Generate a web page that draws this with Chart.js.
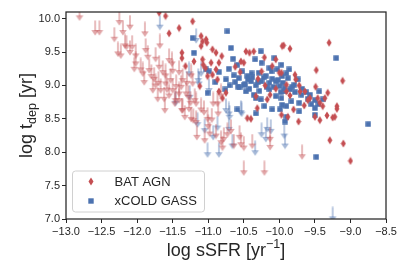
<!DOCTYPE html>
<html>
<head>
<meta charset="utf-8">
<script src="https://cdn.jsdelivr.net/npm/chart.js@4.4.0/dist/chart.umd.min.js"></script>
<style>
html, body { margin: 0; padding: 0; background: #fff; }
#wrap { width: 409px; height: 273px; }
</style>
</head>
<body>
<div id="wrap"><canvas id="chart" width="409" height="273"></canvas></div>
<script>
// tick values
const xTicks = [-13.0, -12.5, -12.0, -11.5, -11.0, -10.5, -10.0, -9.5, -9.0, -8.5];
const yTicks = [7.0, 7.5, 8.0, 8.5, 9.0, 9.5, 10.0];
const legendNames = ['BAT AGN', 'xCOLD GASS'];

// BAT AGN detections
const batX = [-11.69, -11.60, -11.55, -11.41, -11.22, -11.10, -11.08, -11.03, -11.02, -11.10,
  -11.37, -11.37, -11.20, -11.08, -11.07, -11.04, -10.94, -10.89, -10.85, -10.81,
  -10.96, -10.89, -11.32, -11.12, -11.01, -10.94, -10.87, -10.85, -10.47, -10.42,
  -10.36, -10.54, -10.50, -9.96, -10.33, -10.31, -10.17, -10.05, -10.00, -10.10,
  -10.75, -10.80, -9.94, -9.85, -9.30, -9.48, -9.11, -9.49, -9.32, -9.36,
  -9.19, -9.19, -9.78, -9.77, -9.71, -9.64, -9.57, -9.46, -9.43, -9.39,
  -9.90, -9.80, -9.97, -9.73, -9.50, -9.43, -9.33, -9.25, -9.22, -9.29,
  -9.10, -9.00, -9.88, -9.97, -10.45, -10.40, -10.25, -10.13, -9.90, -9.72,
  -10.21, -10.62, -10.55, -10.30, -10.20, -10.05, -9.85, -9.65, -9.60];
const batY = [10.09, 10.04, 9.78, 9.86, 9.96, 9.74, 9.66, 9.69, 9.64, 9.59,
  9.49, 9.41, 9.36, 9.39, 9.31, 9.26, 9.54, 9.49, 9.34, 9.44,
  9.34, 9.24, 9.29, 8.99, 9.14, 9.16, 9.09, 8.91, 9.51, 9.49,
  9.51, 9.36, 9.34, 9.59, 8.84, 8.66, 8.79, 9.39, 9.19, 9.29,
  8.89, 8.81, 9.60, 9.55, 9.64, 9.23, 9.07, 8.98, 8.89, 8.81,
  8.69, 8.65, 9.16, 9.09, 8.91, 8.91, 8.81, 8.81, 8.74, 8.69,
  8.91, 8.64, 9.19, 8.46, 8.53, 8.48, 8.55, 8.52, 8.53, 8.18,
  8.13, 7.87, 8.53, 8.56, 8.51, 8.50, 9.21, 8.86, 9.01, 9.00,
  9.42, 9.28, 9.20, 9.10, 9.00, 8.95, 8.85, 8.70, 8.78];

// xCOLD GASS detections
const xcgX = [-10.73, -11.22, -11.20, -10.68, -10.65, -10.71, -10.59, -10.52, -10.45, -10.57,
  -10.40, -10.50, -10.26, -10.25, -10.14, -10.07, -10.34, -10.29, -10.19, -10.14,
  -10.05, -10.00, -9.96, -9.93, -10.14, -10.05, -10.26, -10.33, -11.03, -10.99,
  -10.75, -10.76, -11.01, -10.59, -10.21, -10.10, -9.96, -10.36, -9.97, -9.20,
  -9.88, -9.74, -9.95, -9.85, -9.92, -9.97, -9.83, -9.69, -9.62, -9.50,
  -9.44, -9.39, -9.50, -9.90, -9.99, -9.92, -9.90, -9.72, -9.50, -8.75,
  -9.48, -10.33, -10.44, -10.39, -10.33, -10.25, -10.56, -10.47, -10.64, -10.11,
  -10.03, -9.86, -9.79, -9.72, -9.57, -10.62, -10.58, -10.48, -10.42, -10.38,
  -10.30, -10.28, -10.22, -10.18, -10.10, -10.08, -10.02, -9.98, -9.90, -9.82,
  -9.78, -9.68, -9.60, -9.55, -9.45, -10.70, -10.85, -10.90];
const xcgY = [9.81, 9.71, 9.49, 9.56, 9.40, 9.25, 9.31, 9.21, 9.14, 9.11,
  9.06, 9.01, 9.51, 9.34, 9.26, 9.41, 9.39, 9.19, 9.14, 9.04,
  9.06, 8.99, 9.14, 8.96, 8.94, 8.84, 8.79, 8.81, 9.24, 9.21,
  9.09, 8.94, 8.89, 8.64, 8.69, 8.64, 8.71, 8.86, 9.31, 9.41,
  9.11, 9.09, 9.04, 8.94, 8.91, 8.81, 8.76, 8.86, 8.90, 8.78,
  8.91, 8.79, 8.66, 8.69, 8.64, 8.46, 8.53, 8.61, 8.56, 8.42,
  7.93, 8.58, 9.09, 9.18, 9.00, 9.06, 8.97, 8.91, 9.15, 9.21,
  9.24, 9.24, 9.01, 8.74, 8.86, 9.05, 8.98, 9.02, 8.95, 9.12,
  9.05, 8.92, 9.12, 8.98, 9.10, 8.98, 9.08, 8.90, 9.18, 8.98,
  8.90, 8.95, 8.80, 8.72, 8.72, 9.00, 9.20, 9.05];

// BAT AGN upper limits
const batLimX = [-12.81, -12.59, -12.53, -12.32, -12.25, -12.20, -12.10, -11.89, -12.17, -12.15,
  -12.27, -12.23, -12.10, -12.07, -12.02, -12.02, -12.04, -11.88, -11.85, -11.74,
  -11.68, -11.92, -11.90, -11.83, -11.76, -11.74, -11.69, -11.64, -11.60, -11.67,
  -11.62, -11.71, -11.61, -11.55, -11.51, -11.53, -11.50, -11.55, -11.46, -11.41,
  -11.60, -11.78, -11.41, -11.36, -11.38, -11.24, -11.22, -11.31, -11.41, -11.36,
  -11.27, -11.17, -11.06, -10.87, -10.82, -11.47, -11.37, -11.33, -11.21, -11.16,
  -11.05, -11.28, -11.19, -11.24, -11.17, -11.01, -10.82, -10.78, -10.73, -10.68,
  -10.64, -10.54, -10.50, -10.38, -10.50, -10.21, -10.89, -10.80, -10.13, -9.68,
  -10.93, -10.86, -10.98, -10.56, -10.13, -11.95, -11.80, -11.70, -11.58, -11.50,
  -11.45, -11.30, -11.25, -11.10, -11.00, -10.95];
const batLimY = [10.08, 9.86, 9.86, 9.76, 10.01, 9.86, 9.94, 9.84, 9.66, 9.64,
  9.54, 9.51, 9.56, 9.64, 9.51, 9.39, 9.31, 9.59, 9.49, 9.46,
  9.66, 9.24, 9.11, 9.29, 9.16, 9.06, 9.34, 9.26, 9.21, 8.99,
  8.86, 8.86, 8.69, 9.44, 9.39, 9.14, 8.99, 8.91, 8.84, 8.94,
  9.09, 8.99, 9.26, 9.14, 9.04, 9.21, 9.09, 8.94, 8.84, 8.69,
  8.71, 8.79, 8.66, 8.79, 8.91, 8.79, 8.69, 8.59, 8.54, 8.29,
  8.24, 8.89, 8.84, 8.56, 8.51, 8.56, 8.21, 8.26, 8.33, 8.38,
  8.16, 8.18, 8.13, 8.16, 7.76, 7.76, 8.31, 8.13, 8.14, 8.00,
  8.79, 8.64, 8.34, 8.29, 8.26, 9.30, 9.20, 9.10, 9.00, 9.28,
  9.05, 9.10, 8.80, 8.70, 8.45, 8.55];

// xCOLD GASS upper limits
const xcgLimX = [-11.68, -11.46, -11.17, -11.10, -10.99, -10.75, -10.54, -10.71, -11.14, -11.15,
  -11.01, -10.85, -10.87, -10.71, -10.66, -10.34, -10.25, -10.19, -10.12, -10.17,
  -9.93, -9.92, -9.25, -11.26, -11.05, -10.70, -10.53, -10.93, -11.27, -11.13];
const xcgLimY = [9.94, 8.80, 9.74, 9.24, 8.99, 8.69, 8.66, 8.64, 9.14, 8.48,
  8.03, 8.03, 8.43, 8.41, 8.16, 8.06, 8.33, 8.26, 8.38, 8.41,
  8.31, 8.16, 7.07, 8.89, 8.39, 8.59, 8.64, 8.29, 9.24, 9.09];

const RED = '#c44e52';
const BLUE = '#4c72b0';
const INK = '#262626';
const FONT = '"Liberation Sans", Arial, sans-serif';

function pts(xs, ys) {
  return xs.map((x, i) => ({ x: x, y: ys[i] }));
}

function makeCanvas(w, h) {
  const c = document.createElement('canvas');
  c.width = w; c.height = h;
  return c;
}

function thinDiamond(color) {
  const c = makeCanvas(6, 9);
  const g = c.getContext('2d');
  g.fillStyle = color;
  g.beginPath();
  g.moveTo(3, 0.5); g.lineTo(5.5, 4.5); g.lineTo(3, 8.5); g.lineTo(0.5, 4.5);
  g.closePath();
  g.fill();
  return c;
}

function square(color) {
  const c = makeCanvas(6, 6);
  const g = c.getContext('2d');
  g.fillStyle = color;
  g.fillRect(0.3, 0.3, 5.4, 5.4);
  return c;
}

function arrow(color) {
  const c = makeCanvas(10, 16);
  const g = c.getContext('2d');
  g.strokeStyle = color;
  g.fillStyle = color;
  g.lineWidth = 1.5;
  g.beginPath();
  g.moveTo(5, 0.5); g.lineTo(5, 11);
  g.stroke();
  g.beginPath();
  g.moveTo(1.2, 10); g.lineTo(8.8, 10); g.lineTo(5, 15.5);
  g.closePath();
  g.fill();
  return c;
}

const redMark = thinDiamond(RED);
const blueMark = square(BLUE);
const redArrow = arrow('rgba(196,78,82,0.5)');
const blueArrow = arrow('rgba(76,114,176,0.5)');
const legendMarks = [redMark, blueMark];

function fmt(v) {
  return (v < 0 ? '\u2212' : '') + Math.abs(v).toFixed(1);
}

// draws all four spines on top of the points
const frame = {
  id: 'frame',
  afterDatasetsDraw(chart) {
    const a = chart.chartArea, ctx = chart.ctx;
    ctx.save();
    ctx.strokeStyle = INK;
    ctx.lineWidth = 1.25;
    ctx.strokeRect(a.left, a.top, a.right - a.left, a.bottom - a.top);
    ctx.restore();
  }
};

const axisTitles = {
  id: 'axisTitles',
  afterDraw(chart) {
    const a = chart.chartArea, ctx = chart.ctx;
    const big = '18px ' + FONT, small = '12.5px ' + FONT;
    ctx.save();
    ctx.fillStyle = INK;
    ctx.textBaseline = 'alphabetic';
    ctx.textAlign = 'left';
    // x title
    ctx.font = big;
    const a1 = 'log sSFR [yr', a3 = ']';
    const w1 = ctx.measureText(a1).width, w3 = ctx.measureText(a3).width;
    ctx.font = small;
    const w2 = ctx.measureText('\u22121').width;
    let x = (a.left + a.right) / 2 - (w1 + w2 + w3) / 2;
    const yb = 256;
    ctx.font = big; ctx.fillText(a1, x, yb); x += w1;
    ctx.font = small; ctx.fillText('\u22121', x, yb - 8); x += w2;
    ctx.font = big; ctx.fillText(a3, x, yb);
    // y title
    ctx.translate(32, (a.top + a.bottom) / 2);
    ctx.rotate(-Math.PI / 2);
    ctx.font = big;
    const b1 = 'log t', b3 = ' [yr]';
    const v1 = ctx.measureText(b1).width, v3 = ctx.measureText(b3).width;
    ctx.font = small;
    const v2 = ctx.measureText('dep').width;
    let p = -(v1 + v2 + v3) / 2;
    ctx.font = big; ctx.fillText(b1, p, 0); p += v1;
    ctx.font = small; ctx.fillText('dep', p, 4); p += v2;
    ctx.font = big; ctx.fillText(b3, p, 0);
    ctx.restore();
  }
};

const legendBox = {
  id: 'legendBox',
  afterDraw(chart) {
    const a = chart.chartArea, ctx = chart.ctx;
    const x0 = a.left + 6.5, y0 = a.bottom - 48;
    ctx.save();
    ctx.beginPath();
    ctx.roundRect(x0, y0, 132, 41, 3);
    ctx.fillStyle = 'rgba(255,255,255,0.8)';
    ctx.fill();
    ctx.strokeStyle = '#d0d0d0';
    ctx.lineWidth = 1;
    ctx.stroke();
    ctx.fillStyle = INK;
    ctx.font = '13px ' + FONT;
    ctx.textBaseline = 'middle';
    legendNames.forEach((name, i) => {
      const cy = y0 + 10.5 + i * 19;
      const m = legendMarks[i];
      ctx.drawImage(m, Math.round(x0 + 18.5 - m.width / 2), Math.round(cy - m.height / 2));
      ctx.fillText(name, x0 + 42, cy + 0.5);
    });
    ctx.restore();
  }
};

new Chart(document.getElementById('chart'), {
  type: 'scatter',
  data: {
    datasets: [
      { label: 'BAT AGN', data: pts(batX, batY), pointStyle: redMark },
      { label: 'xCOLD GASS', data: pts(xcgX, xcgY), pointStyle: blueMark },
      { label: 'BAT AGN limits', data: pts(batLimX, batLimY), pointStyle: redArrow },
      { label: 'xCOLD GASS limits', data: pts(xcgLimX, xcgLimY), pointStyle: blueArrow }
    ]
  },
  options: {
    responsive: false,
    devicePixelRatio: 1,
    animation: false,
    layout: { padding: { top: 12, right: 23, left: 0, bottom: 0 } },
    plugins: { legend: { display: false }, tooltip: { enabled: false } },
    scales: {
      x: {
        type: 'linear',
        min: -13, max: -8.5,
        afterBuildTicks: s => { s.ticks = xTicks.map(v => ({ value: v })); },
        afterFit: s => { s.height = 54; },
        ticks: { callback: fmt, color: INK, font: { family: FONT, size: 11 }, padding: 2, maxRotation: 0, autoSkip: false },
        grid: { drawOnChartArea: false, drawTicks: true, tickLength: 4, tickColor: INK, tickWidth: 1 },
        border: { display: false }
      },
      y: {
        type: 'linear',
        min: 7.0, max: 10.1,
        afterBuildTicks: s => { s.ticks = yTicks.map(v => ({ value: v })); },
        afterFit: s => { s.width = 66; },
        ticks: { callback: fmt, color: INK, font: { family: FONT, size: 11 }, padding: 2, autoSkip: false },
        grid: { drawOnChartArea: false, drawTicks: true, tickLength: 4, tickColor: INK, tickWidth: 1 },
        border: { display: false }
      }
    }
  },
  plugins: [frame, axisTitles, legendBox]
});
</script>
</body>
</html>
